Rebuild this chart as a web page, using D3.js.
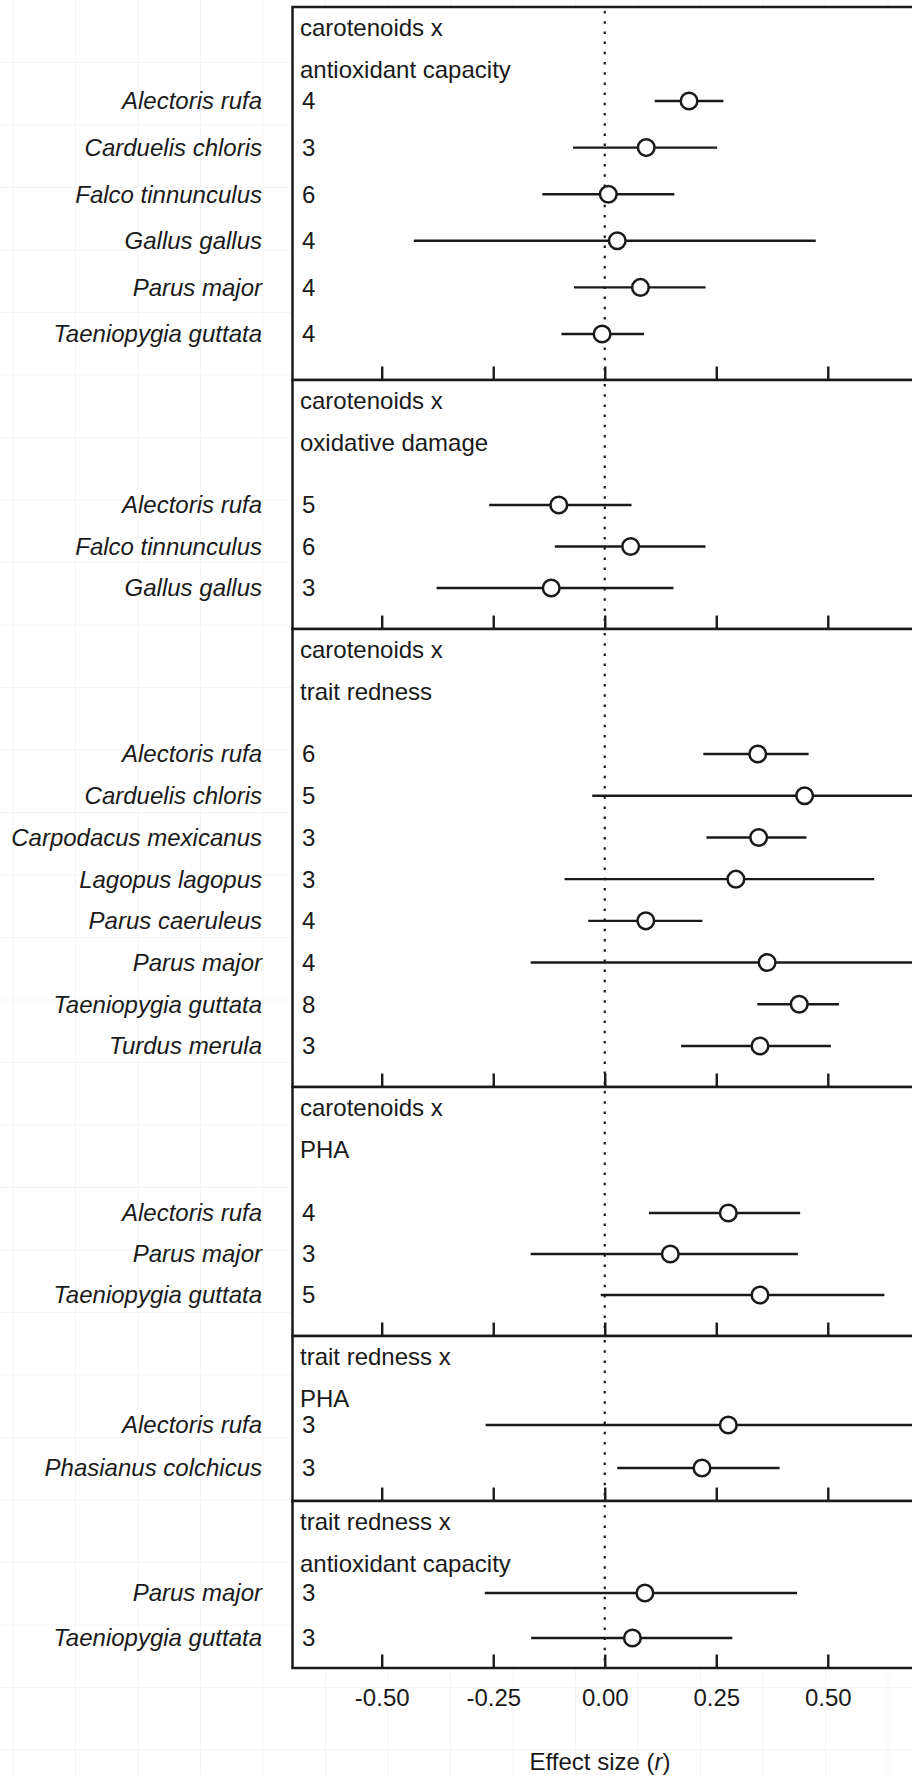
<!DOCTYPE html>
<html lang="en">
<head>
  <meta charset="UTF-8">
  <title>Effect sizes by species</title>
  <script src="https://d3js.org/d3.v7.min.js"></script>
  <style>
    body {
      margin: 0;
      background: #fff;
    }

    svg {
      display: block;
      font-family: "Liberation Sans", Arial, sans-serif;
    }

    .species {
      font-size: 24px;
      font-style: italic;
      fill: #1a1a1a;
    }

    .count, .header {
      font-size: 24px;
      fill: #1a1a1a;
    }

    .tick text {
      font-size: 24px;
      fill: #1a1a1a;
      font-family: "Liberation Sans", Arial, sans-serif;
    }
  </style>
</head>
<body>

<svg width="912" height="1775"></svg>

<script>
  // panel headings (two lines each)
  const panelTitles = [
    ["carotenoids x", "antioxidant capacity"],
    ["carotenoids x", "oxidative damage"],
    ["carotenoids x", "trait redness"],
    ["carotenoids x", "PHA"],
    ["trait redness x", "PHA"],
    ["trait redness x", "antioxidant capacity"]
  ];

  // one entry per row
  const panel = [0, 0, 0, 0, 0, 0, 1, 1, 1, 2, 2, 2, 2, 2, 2, 2, 2, 3, 3, 3, 4, 4, 5, 5];
  const species = [
    "Alectoris rufa", "Carduelis chloris", "Falco tinnunculus", "Gallus gallus", "Parus major", "Taeniopygia guttata",
    "Alectoris rufa", "Falco tinnunculus", "Gallus gallus",
    "Alectoris rufa", "Carduelis chloris", "Carpodacus mexicanus", "Lagopus lagopus", "Parus caeruleus", "Parus major", "Taeniopygia guttata", "Turdus merula",
    "Alectoris rufa", "Parus major", "Taeniopygia guttata",
    "Alectoris rufa", "Phasianus colchicus",
    "Parus major", "Taeniopygia guttata"
  ];
  const nStudies = [4, 3, 6, 4, 4, 4, 5, 6, 3, 6, 5, 3, 3, 4, 4, 8, 3, 4, 3, 5, 3, 3, 3, 3];
  const effect = [0.189, 0.093, 0.008, 0.028, 0.080, -0.006,
                  -0.103, 0.058, -0.120,
                  0.343, 0.448, 0.345, 0.294, 0.092, 0.364, 0.436, 0.348,
                  0.277, 0.147, 0.348,
                  0.277, 0.218,
                  0.090, 0.062];
  const lower = [0.112, -0.071, -0.140, -0.428, -0.069, -0.097,
                 -0.259, -0.112, -0.377,
                 0.221, -0.028, 0.228, -0.090, -0.037, -0.166, 0.342, 0.171,
                 0.099, -0.166, -0.009,
                 -0.267, 0.028,
                 -0.269, -0.165];
  const upper = [0.266, 0.252, 0.156, 0.473, 0.226, 0.088,
                 0.060, 0.226, 0.154,
                 0.457, 0.800, 0.452, 0.604, 0.219, 0.750, 0.525, 0.507,
                 0.438, 0.433, 0.627,
                 0.720, 0.392,
                 0.431, 0.286];

  const xTicks = [-0.5, -0.25, 0, 0.25, 0.5];

  // panel layout: frame top/bottom and first/last row centre
  const layout = [
    { top: 7, bottom: 380, first: 101, last: 334 },
    { top: 380, bottom: 629, first: 505, last: 588 },
    { top: 629, bottom: 1087, first: 754, last: 1046 },
    { top: 1087, bottom: 1336, first: 1213, last: 1295 },
    { top: 1336, bottom: 1501, first: 1425, last: 1468 },
    { top: 1501, bottom: 1668, first: 1593, last: 1638 }
  ];

  const svg = d3.select("svg");
  const width = +svg.attr("width");
  const height = +svg.attr("height");

  const x = d3.scaleLinear().domain([-0.7, 0.7]).range([292.5, 917]);

  const rows = species.map((s, i) => ({
    panel: panel[i], species: s, n: nStudies[i], r: effect[i], lo: lower[i], hi: upper[i]
  }));

  // faint background grid
  const bg = svg.append("g").attr("stroke", "#f5f5f5").attr("stroke-width", 1);
  bg.selectAll("line.v")
    .data(d3.range(13, width, 62.5))
    .join("line")
    .attr("x1", d => d).attr("x2", d => d)
    .attr("y1", 0).attr("y2", height);
  bg.selectAll("line.h")
    .data(d3.range(62.5, height, 62.5))
    .join("line")
    .attr("y1", d => d).attr("y2", d => d)
    .attr("x1", 0).attr("x2", width);

  panelTitles.forEach((titles, p) => {
    const L = layout[p];
    const data = rows.filter(d => d.panel === p);
    const y = d3.scalePoint()
      .domain(data.map(d => d.species))
      .range([L.first, L.last]);

    const g = svg.append("g");

    g.append("rect")
      .attr("x", x.range()[0])
      .attr("y", L.top)
      .attr("width", x.range()[1] - x.range()[0])
      .attr("height", L.bottom - L.top)
      .attr("fill", "#fff");

    // zero line
    g.append("line")
      .attr("x1", x(0)).attr("x2", x(0))
      .attr("y1", L.top + 4).attr("y2", L.bottom)
      .attr("stroke", "#1a1a1a")
      .attr("stroke-width", 2.2)
      .attr("stroke-dasharray", "2.5,7.7");

    // ticks along bottom edge
    const axis = d3.axisBottom(x)
      .tickValues(xTicks)
      .tickSize(-13.5)
      .tickPadding(21)
      .tickFormat(p === panelTitles.length - 1 ? d => d.toFixed(2) : "");

    g.append("g")
      .attr("transform", `translate(0,${L.bottom})`)
      .call(axis)
      .call(a => a.select(".domain").remove())
      .call(a => a.selectAll(".tick line").attr("stroke", "#1a1a1a").attr("stroke-width", 2.4));

    g.selectAll("text.header")
      .data(titles)
      .join("text")
      .attr("class", "header")
      .attr("x", 300)
      .attr("y", (d, i) => L.top + 21 + i * 42)
      .attr("dy", "0.35em")
      .text(d => d);

    g.selectAll("text.species")
      .data(data)
      .join("text")
      .attr("class", "species")
      .attr("x", 262)
      .attr("y", d => y(d.species))
      .attr("dy", "0.35em")
      .attr("text-anchor", "end")
      .text(d => d.species);

    g.selectAll("text.count")
      .data(data)
      .join("text")
      .attr("class", "count")
      .attr("x", 302)
      .attr("y", d => y(d.species))
      .attr("dy", "0.35em")
      .text(d => d.n);

    g.selectAll("line.ci")
      .data(data)
      .join("line")
      .attr("class", "ci")
      .attr("x1", d => x(d.lo))
      .attr("x2", d => x(d.hi))
      .attr("y1", d => y(d.species))
      .attr("y2", d => y(d.species))
      .attr("stroke", "#1a1a1a")
      .attr("stroke-width", 2.4);

    g.selectAll("circle")
      .data(data)
      .join("circle")
      .attr("cx", d => x(d.r))
      .attr("cy", d => y(d.species))
      .attr("r", 8.3)
      .attr("fill", "#fff")
      .attr("stroke", "#1a1a1a")
      .attr("stroke-width", 2.5);

    // frame
    g.append("rect")
      .attr("x", x.range()[0])
      .attr("y", L.top)
      .attr("width", x.range()[1] - x.range()[0])
      .attr("height", L.bottom - L.top)
      .attr("fill", "none")
      .attr("stroke", "#1a1a1a")
      .attr("stroke-width", 2.5);
  });

  svg.append("text")
    .attr("x", 600)
    .attr("y", 1762)
    .attr("dy", "0.35em")
    .attr("text-anchor", "middle")
    .attr("font-size", 24)
    .attr("fill", "#1a1a1a")
    .html('Effect size (<tspan font-style="italic">r</tspan>)');
</script>
</body>
</html>
